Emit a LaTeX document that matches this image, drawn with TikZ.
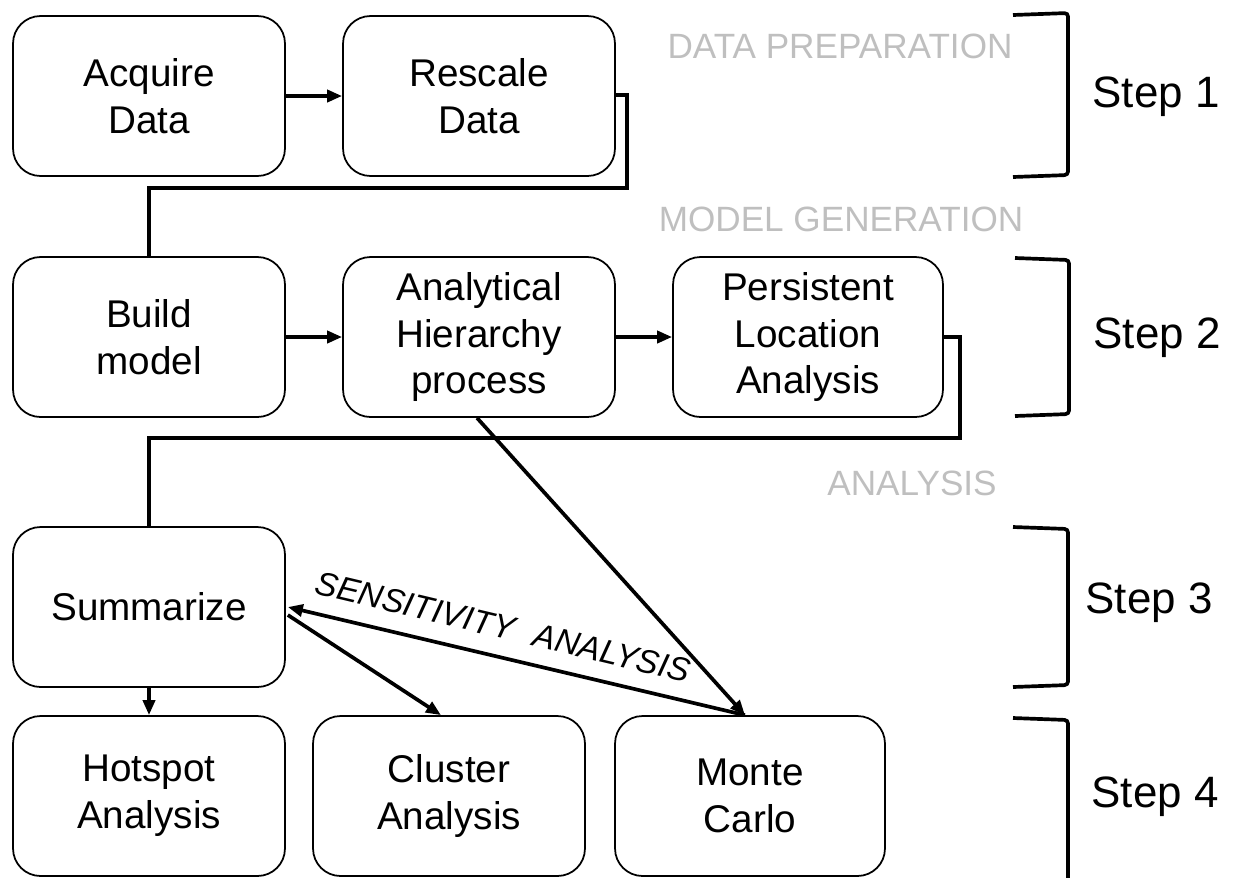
\documentclass[tikz,border=0pt]{standalone}
\usepackage{fontspec}
\setmainfont{Liberation Sans}
\usetikzlibrary{arrows.meta,calc}
\begin{document}
\begin{tikzpicture}[x=0.02cm,y=-0.02cm,
  box/.style={draw=black,line width=1pt,rounded corners=0.55cm,minimum width=5.44cm,minimum height=3.2cm,align=center,inner sep=0pt,font=\fontsize{22}{26.7}\selectfont},
  conn/.style={line width=2.1pt,line join=miter},
  arr/.style={conn,-{Triangle[length=0.3cm,width=0.24cm]}},
  phase/.style={text=black!25,font=\fontsize{20}{24}\selectfont,inner sep=0pt},
  steplbl/.style={font=\fontsize{25}{30}\selectfont,inner sep=0pt},
  bracket/.style={line width=2.1pt,rounded corners=2pt}]
\useasboundingbox (0,0) rectangle (1236,877);
% boxes
\node[box] (acq) at (149,96) {Acquire\\Data};
\node[box] (res) at (479,96) {Rescale\\Data};
\node[box] (bld) at (149,337) {Build\\model};
\node[box] (ahp) at (479,337) {Analytical\\Hierarchy\\process};
\node[box,minimum width=5.4cm] (pla) at (808,337) {Persistent\\Location\\Analysis};
\node[box] (sum) at (149,607) {Summarize};
\node[box] (hot) at (149,796) {Hotspot\\Analysis};
\node[box] (clu) at (449,796) {Cluster\\Analysis};
\node[box,minimum width=5.4cm] (mc) at (750,796) {Monte\\Carlo};
% phase labels
\node[phase] (ph1) at (840,46) {DATA PREPARATION};
\node[phase] (ph2) at (841,219) {MODEL GENERATION};
\node[phase] (ph3) at (912,483) {ANALYSIS};
% step labels
\node[steplbl] (s1) at (1156,97) {Step 1};
\node[steplbl] (s2) at (1157,338) {Step 2};
\node[steplbl] (s3) at (1149,603) {Step 3};
\node[steplbl] (s4) at (1155,797) {Step 4};
% brackets
\draw[bracket] (1013,15) -- (1068,13) -- (1068,175) -- (1013,177);
\draw[bracket] (1015,258) -- (1069,260) -- (1069,414) -- (1015,416);
\draw[bracket] (1013,527) -- (1068,529) -- (1068,685) -- (1013,687);
\draw[bracket] (1013,718) -- (1068,720) -- (1068,880);
% connectors
\coordinate (c1) at (627,188);
\coordinate (c2) at (960,438);
\draw[arr] (acq.east) -- (res.west);
\draw[conn] ($(res.east)+(0,-1)$) -| (c1) -| (bld.north);
\draw[arr] (bld.east) -- (ahp.west);
\draw[arr] (ahp.east) -- (pla.west);
\draw[conn] (pla.east) -| (c2) -| (sum.north);
\draw[arr] (sum.south) -- (hot.north);
\draw[arr] ($(sum.east)+(2,8)$) -- ($(clu.north)+(-8,0)$);
\draw[arr] ($(ahp.south)+(-2,0)$) -- ($(mc.north)+(-5,0)$);
\draw[arr] ($(mc.north)+(-5,0)$) -- ($(sum.east)+(2,0)$);
\node[rotate=-13.4,font=\fontsize{19}{22}\selectfont\itshape,inner sep=0pt] (sens) at (503,627) {SENSITIVITY\hspace{0.6em}ANALYSIS};
\end{tikzpicture}
\end{document}
